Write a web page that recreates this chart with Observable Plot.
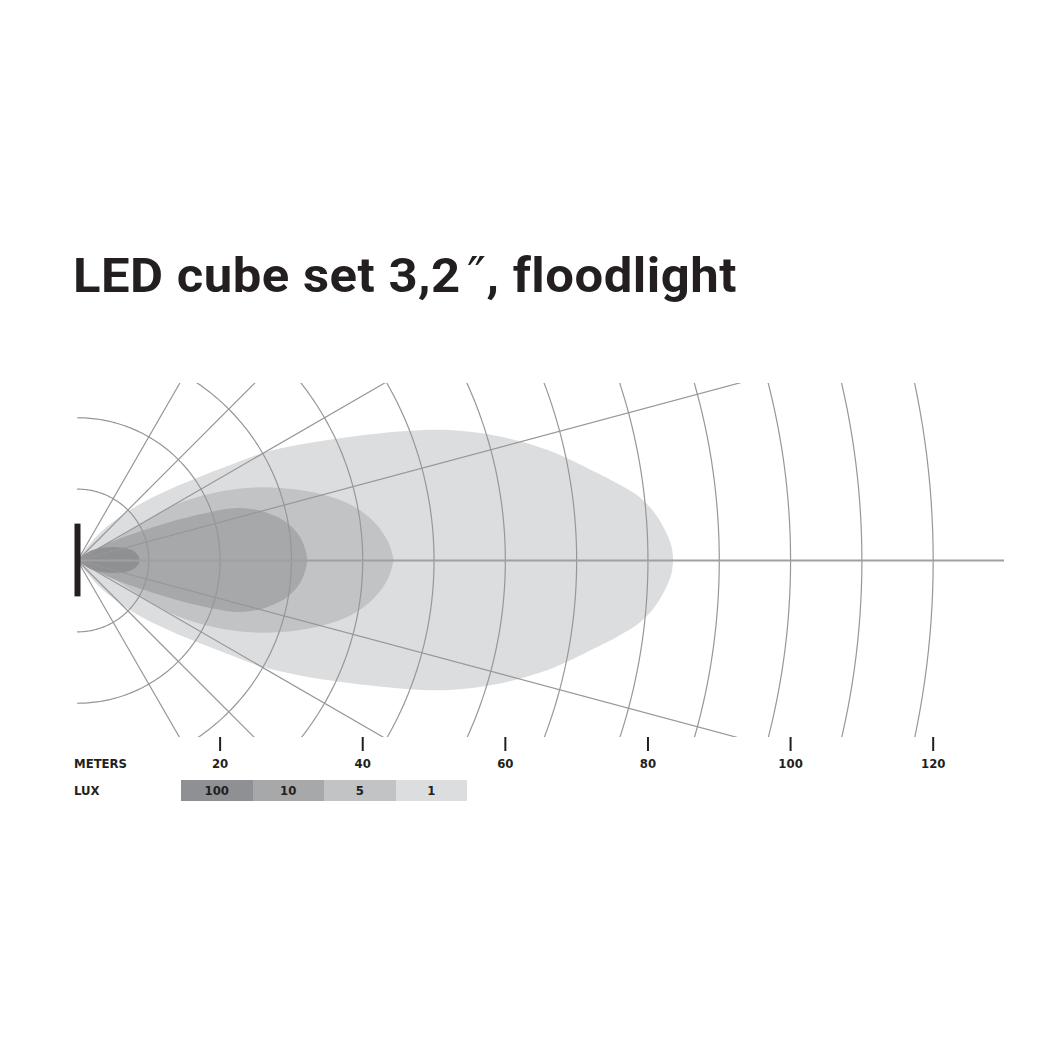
<!DOCTYPE html>
<html>
<head>
<meta charset="utf-8">
<script src="https://cdn.jsdelivr.net/npm/d3@7"></script>
<script src="https://cdn.jsdelivr.net/npm/@observablehq/plot@0.6"></script>
<style>
  html, body { margin: 0; padding: 0; background: #fff; }
  body { width: 1053px; height: 1053px; position: relative; overflow: hidden;
         font-family: "DejaVu Sans Condensed", "DejaVu Sans", sans-serif; color: #231f20; }
  #title { position: absolute; left: 73px; top: 246px; font-family: Roboto, sans-serif; font-size: 49px; font-weight: bold;
           line-height: 60px; white-space: nowrap; transform-origin: 0 0; letter-spacing: 0.5px; }
  #title .dp { font-family: "DejaVu Sans", sans-serif; font-weight: normal; margin-left: 6px; }
  #chart { position: absolute; left: 0; top: 373px; }
  .rowlabel { position: absolute; left: 74px; font-size: 13px; font-weight: bold; line-height: 14px; }
  #legend { position: absolute; left: 181px; top: 780px; display: flex; }
  #legend div { width: 71.5px; height: 21px; line-height: 22px; text-align: center;
                font-size: 13px; font-weight: bold; color: #231f20; }
</style>
</head>
<body>
<div id="title">LED cube set 3,2<span class="dp">″</span>, floodlight</div>
<div id="chart"></div>
<div class="rowlabel" style="top:757px">METERS</div>
<div class="rowlabel" style="top:784px">LUX</div>
<div id="legend"></div>
<script>
// ---- data (meters) ----
const luxLevels = ["100", "10", "5", "1"];
const luxColors = ["#8f9093", "#a7a8aa", "#c2c3c5", "#dcdddf"];
// upper-half boundary of each isolux zone: [distance m, half-width m]
const lux1 = [[0,0],[3.2,3.8],[7.4,7.0],[12.1,9.5],[16.8,11.5],[21.5,13.3],[26.1,15.0],[30.9,16.1],[37.9,17.2],[46.7,18.1],[52.3,18.2],[59.3,17.3],[66.3,15.3],[72.3,12.5],[76.0,10.6],[78.9,8.8],[81.0,6.6],[82.6,3.9],[83.4,1.8],[83.6,0]];
const lux5 = [[0,0],[5.0,2.6],[9.8,5.6],[14.4,8.0],[19.1,9.4],[23.8,10.1],[28.5,10.1],[33.1,9.5],[37.9,8.0],[41.6,5.4],[43.7,2.4],[44.4,0]];
const lux10 = [[0,0],[4.5,2.4],[9.8,4.3],[14.4,5.7],[19.1,6.8],[22.6,7.3],[26.1,6.8],[29.5,5.2],[31.3,3.2],[32.1,1.2],[32.3,0]];
const lux100 = [[0,0],[2.2,1.4],[5.6,1.8],[7.7,1.4],[8.6,0.6],[8.8,0]];
const meterTicks = [20, 40, 60, 80, 100, 120];
const arcRadii = [10, 20, 30, 40, 50, 60, 70, 80, 90, 100, 110, 120];
const rayAngles = [-60, -45, -30, -15, 15, 30, 45, 60];
const axisLength = 130;     // horizontal axis extent (m)
const fieldHalf = 24.8;     // visible half-height of the grid (m)
const lampHalf = 5.1;       // half-height of the lamp bar (m)

// ---- layout ----
const W = 1053, mL = 77, mR = 49, mT = 10, mB = 40;
const k = (W - mL - mR) / axisLength;
const H = Math.round(mT + mB + 2 * fieldHalf * k);

const zones = [lux1, lux5, lux10, lux100];
const zoneColors = [luxColors[3], luxColors[2], luxColors[1], luxColors[0]];
const arcPts = arcRadii.flatMap(r => d3.range(-90, 90.5, 1).map(a => ({
  r, x: r * Math.cos(a * Math.PI / 180), y: r * Math.sin(a * Math.PI / 180)})));
const rayLen = 200;

const plot = Plot.plot({
  width: W, height: H,
  marginLeft: mL, marginRight: mR, marginTop: mT, marginBottom: mB,
  x: {domain: [0, axisLength], axis: null},
  y: {domain: [-fieldHalf, fieldHalf], axis: null},
  style: {fontFamily: "DejaVu Sans Condensed, DejaVu Sans, sans-serif", background: "transparent", overflow: "visible"},
  marks: [
    ...zones.map((pts, i) => Plot.areaY(pts, {
      x: d => d[0], y1: d => -d[1], y2: d => d[1], fill: zoneColors[i], curve: "catmull-rom", clip: true})),
    Plot.line(arcPts, {x: "x", y: "y", z: "r", stroke: "#979797", strokeWidth: 1.2, clip: true}),
    Plot.link(rayAngles, {x1: 0, y1: 0,
      x2: a => rayLen * Math.cos(a * Math.PI / 180), y2: a => rayLen * Math.sin(a * Math.PI / 180),
      stroke: "#979797", strokeWidth: 1.2, clip: true}),
    Plot.ruleY([0], {x1: 0, x2: axisLength, stroke: "#a0a0a0", strokeWidth: 1.8}),
    Plot.ruleX([0], {y1: -lampHalf, y2: lampHalf, stroke: "#231f20", strokeWidth: 6}),
    Plot.axisX(meterTicks, {anchor: "bottom", tickSize: 14, tickPadding: 7, stroke: "#231f20",
      strokeWidth: 2, fill: "#231f20", fontSize: 13, fontWeight: "bold", label: null})
  ]
});
document.getElementById("chart").appendChild(plot);

const legend = document.getElementById("legend");
luxLevels.forEach((l, i) => {
  const d = document.createElement("div");
  d.textContent = l;
  d.style.background = luxColors[i];
  legend.appendChild(d);
});

// fit title width to reference
const t = document.getElementById("title");
const w = t.getBoundingClientRect().width;
t.style.transform = `scaleX(${664 / w})`;
</script>
</body>
</html>
